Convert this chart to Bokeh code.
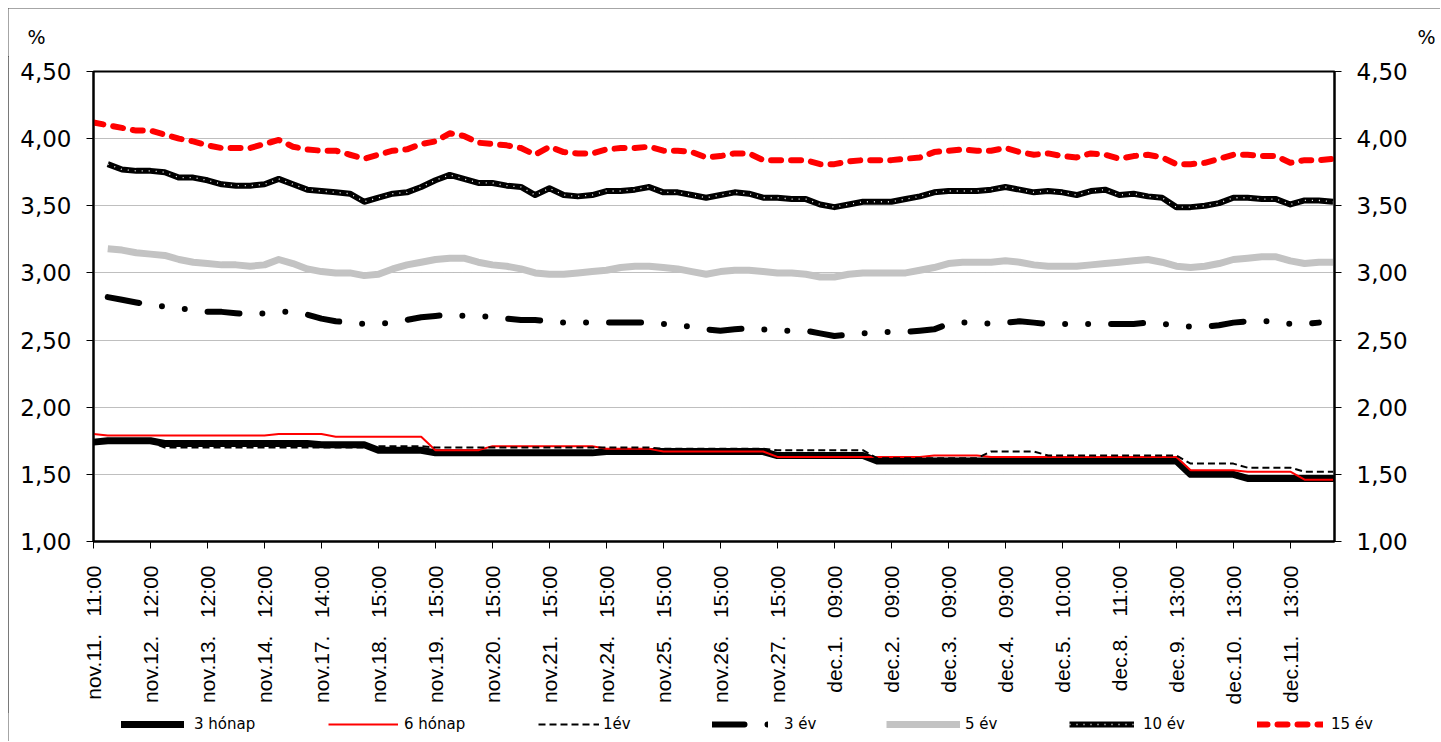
import math
from bokeh.plotting import figure
from bokeh.layouts import column
from bokeh.models import (Range1d, FixedTicker, LinearAxis, Legend, LegendItem, Label)
from bokeh.embed import file_html
from bokeh.resources import INLINE

nan = float("nan")

# ---------------- data ----------------
tick_labels = ["nov.11. 11:00", "nov.12. 12:00", "nov.13. 12:00", "nov.14. 12:00",
               "nov.17. 14:00", "nov.18. 15:00", "nov.19. 15:00", "nov.20. 15:00",
               "nov.21. 15:00", "nov.24. 15:00", "nov.25. 15:00", "nov.26. 15:00",
               "nov.27. 15:00", "dec.1. 09:00", "dec.2. 09:00", "dec.3. 09:00",
               "dec.4. 09:00", "dec.5. 10:00", "dec.8. 11:00", "dec.9. 13:00",
               "dec.10. 13:00", "dec.11. 13:00"]
points_per_label = 4
y_tick_values = [1.0, 1.5, 2.0, 2.5, 3.0, 3.5, 4.0, 4.5]
y_tick_labels = ["1,00", "1,50", "2,00", "2,50", "3,00", "3,50", "4,00", "4,50"]
unit_label = "%"

honap3 = [1.74, 1.75, 1.75, 1.75, 1.75, 1.73, 1.73, 1.73, 1.73, 1.73, 1.73,
          1.73, 1.73, 1.73, 1.73, 1.73, 1.72, 1.72, 1.72, 1.72, 1.68, 1.68,
          1.68, 1.68, 1.66, 1.66, 1.66, 1.66, 1.66, 1.66, 1.66, 1.66, 1.66,
          1.66, 1.66, 1.66, 1.67, 1.67, 1.67, 1.67, 1.67, 1.67, 1.67, 1.67,
          1.67, 1.67, 1.67, 1.67, 1.64, 1.64, 1.64, 1.64, 1.64, 1.64, 1.64,
          1.60, 1.60, 1.60, 1.60, 1.60, 1.60, 1.60, 1.60, 1.60, 1.60, 1.60,
          1.60, 1.60, 1.60, 1.60, 1.60, 1.60, 1.60, 1.60, 1.60, 1.60, 1.60,
          1.50, 1.50, 1.50, 1.50, 1.47, 1.47, 1.47, 1.47, 1.47, 1.47, 1.47]

honap6 = [1.80, 1.79, 1.79, 1.79, 1.79, 1.79, 1.79, 1.79, 1.79, 1.79, 1.79,
          1.79, 1.79, 1.80, 1.80, 1.80, 1.80, 1.78, 1.78, 1.78, 1.78, 1.78,
          1.78, 1.78, 1.68, 1.68, 1.68, 1.68, 1.71, 1.71, 1.71, 1.71, 1.71,
          1.71, 1.71, 1.71, 1.69, 1.69, 1.69, 1.69, 1.67, 1.67, 1.67, 1.67,
          1.67, 1.67, 1.67, 1.67, 1.63, 1.63, 1.63, 1.63, 1.63, 1.63, 1.63,
          1.63, 1.63, 1.63, 1.63, 1.64, 1.64, 1.64, 1.64, 1.63, 1.63, 1.63,
          1.63, 1.63, 1.63, 1.63, 1.63, 1.63, 1.63, 1.63, 1.63, 1.63, 1.63,
          1.53, 1.53, 1.53, 1.53, 1.52, 1.52, 1.52, 1.52, 1.46, 1.46, 1.46]

ev1 = [1.74, 1.74, 1.74, 1.74, 1.74, 1.70, 1.70, 1.70, 1.70, 1.70, 1.70,
       1.70, 1.70, 1.70, 1.70, 1.70, 1.70, 1.70, 1.70, 1.70, 1.71, 1.71,
       1.71, 1.71, 1.70, 1.70, 1.70, 1.70, 1.70, 1.70, 1.70, 1.70, 1.70,
       1.70, 1.70, 1.70, 1.70, 1.70, 1.70, 1.70, 1.69, 1.69, 1.69, 1.69,
       1.69, 1.69, 1.69, 1.69, 1.68, 1.68, 1.68, 1.68, 1.68, 1.68, 1.68,
       1.62, 1.62, 1.62, 1.62, 1.62, 1.62, 1.62, 1.62, 1.67, 1.67, 1.67,
       1.67, 1.64, 1.64, 1.64, 1.64, 1.64, 1.64, 1.64, 1.64, 1.64, 1.64,
       1.58, 1.58, 1.58, 1.58, 1.55, 1.55, 1.55, 1.55, 1.52, 1.52, 1.52]

ev3 = [nan, 2.82, 2.80, 2.78, 2.76, 2.75, 2.74, 2.72, 2.71, 2.71, 2.70,
       2.69, 2.70, 2.71, 2.71, 2.69, 2.66, 2.64, 2.63, 2.62, 2.62, 2.63,
       2.65, 2.67, 2.68, 2.69, 2.68, 2.68, 2.67, 2.66, 2.65, 2.65, 2.64,
       2.63, 2.63, 2.63, 2.63, 2.63, 2.63, 2.63, 2.62, 2.61, 2.60, 2.58,
       2.57, 2.58, 2.59, 2.58, 2.57, 2.57, 2.57, 2.55, 2.53, 2.54, 2.55,
       2.56, 2.56, 2.56, 2.57, 2.58, 2.62, 2.63, 2.63, 2.62, 2.63, 2.64,
       2.63, 2.62, 2.62, 2.62, 2.62, 2.62, 2.62, 2.62, 2.63, 2.62, 2.61,
       2.60, 2.60, 2.61, 2.63, 2.64, 2.64, 2.64, 2.62, 2.62, 2.63, nan]

ev5 = [nan, 3.18, 3.17, 3.15, 3.14, 3.13, 3.10, 3.08, 3.07, 3.06, 3.06,
       3.05, 3.06, 3.10, 3.07, 3.03, 3.01, 3.00, 3.00, 2.98, 2.99, 3.03,
       3.06, 3.08, 3.10, 3.11, 3.11, 3.08, 3.06, 3.05, 3.03, 3.00, 2.99,
       2.99, 3.00, 3.01, 3.02, 3.04, 3.05, 3.05, 3.04, 3.03, 3.01, 2.99,
       3.01, 3.02, 3.02, 3.01, 3.00, 3.00, 2.99, 2.97, 2.97, 2.99, 3.00,
       3.00, 3.00, 3.00, 3.02, 3.04, 3.07, 3.08, 3.08, 3.08, 3.09, 3.08,
       3.06, 3.05, 3.05, 3.05, 3.06, 3.07, 3.08, 3.09, 3.10, 3.08, 3.05,
       3.04, 3.05, 3.07, 3.10, 3.11, 3.12, 3.12, 3.09, 3.07, 3.08, 3.08]

ev10 = [nan, 3.81, 3.77, 3.76, 3.76, 3.75, 3.71, 3.71, 3.69, 3.66, 3.65,
        3.65, 3.66, 3.70, 3.66, 3.62, 3.61, 3.60, 3.59, 3.53, 3.56, 3.59,
        3.60, 3.64, 3.69, 3.73, 3.70, 3.67, 3.67, 3.65, 3.64, 3.58, 3.63,
        3.58, 3.57, 3.58, 3.61, 3.61, 3.62, 3.64, 3.60, 3.60, 3.58, 3.56,
        3.58, 3.60, 3.59, 3.56, 3.56, 3.55, 3.55, 3.51, 3.49, 3.51, 3.53,
        3.53, 3.53, 3.55, 3.57, 3.60, 3.61, 3.61, 3.61, 3.62, 3.64, 3.62,
        3.60, 3.61, 3.60, 3.58, 3.61, 3.62, 3.58, 3.59, 3.57, 3.56, 3.49,
        3.49, 3.50, 3.52, 3.56, 3.56, 3.55, 3.55, 3.51, 3.54, 3.54, 3.53]

ev15 = [4.12, 4.10, 4.08, 4.06, 4.06, 4.03, 4.00, 3.98, 3.95, 3.93, 3.93,
        3.93, 3.96, 3.99, 3.94, 3.92, 3.91, 3.91, 3.88, 3.85, 3.88, 3.91,
        3.92, 3.96, 3.98, 4.04, 4.02, 3.97, 3.96, 3.95, 3.93, 3.88, 3.94,
        3.90, 3.89, 3.89, 3.92, 3.93, 3.93, 3.94, 3.91, 3.91, 3.90, 3.86,
        3.87, 3.89, 3.89, 3.84, 3.84, 3.84, 3.84, 3.81, 3.81, 3.83, 3.84,
        3.84, 3.84, 3.85, 3.86, 3.90, 3.91, 3.92, 3.91, 3.91, 3.93, 3.90,
        3.88, 3.89, 3.87, 3.86, 3.89, 3.88, 3.85, 3.87, 3.88, 3.86, 3.81,
        3.81, 3.82, 3.85, 3.88, 3.88, 3.87, 3.87, 3.82, 3.84, 3.84, 3.85]

x = list(range(len(ev15)))

# ---------------- sizes ----------------
W = 1432
PAGE_L = 8                            # page x of the layout's left edge
H_TOP, H_MAIN, H_LEG = 48, 656, 29
ML, MR, MT, MB = 85, 106, 15, 171
tick_font = "DejaVu Sans"

# series styles (shared by the chart and the legend strip)
styles = {
    "3 hónap": [dict(line_color="black", line_width=7, line_cap="round", line_join="round")],
    "6 hónap": [dict(line_color="#ff0000", line_width=2)],
    "1év": [dict(line_color="black", line_width=2, line_dash="7 4")],
    "3 év": [dict(line_color="black", line_width=6, line_cap="round", line_join="round",
                  line_dash="32 23 0 23 0 23")],
    "5 év": [dict(line_color="#c3c3c3", line_width=7, line_join="round")],
    "10 év": [dict(line_color="black", line_width=6, line_join="round"),
              dict(line_color="white", line_width=1.3, line_dash="1 6", line_join="round")],
    "15 év": [dict(line_color="#ff0000", line_width=6, line_cap="round", line_join="round",
                   line_dash="10 10")],
}
series = [("3 hónap", honap3), ("6 hónap", honap6), ("1év", ev1), ("3 év", ev3),
          ("5 év", ev5), ("10 év", ev10), ("15 év", ev15)]


def strip(height):
    f = figure(width=W, height=height, output_backend="svg", toolbar_location=None,
               x_range=Range1d(PAGE_L, PAGE_L + W), y_range=Range1d(0, height),
               x_axis_type=None, y_axis_type=None, min_border=0,
               outline_line_color=None, background_fill_color="white",
               border_fill_color="white", frame_align=False)
    f.grid.visible = False
    return f


# ---------------- top strip with the % signs ----------------
top = strip(H_TOP)
for px in (27, 1417):
    top.add_layout(Label(x=px, y=20, text=unit_label, text_font=tick_font,
                         text_font_size="19px", text_color="black",
                         text_baseline="middle"))

# ---------------- main chart ----------------
p = figure(width=W, height=H_MAIN, output_backend="svg", toolbar_location=None,
           x_range=Range1d(0, 87.1), y_range=Range1d(1.0, 4.5),
           min_border_left=ML, min_border_right=MR, min_border_top=MT,
           min_border_bottom=MB, background_fill_color="white",
           border_fill_color="white", frame_align=False)
p.outline_line_color = "black"
p.outline_line_width = 2

p.xgrid.visible = False
p.ygrid.ticker = FixedTicker(ticks=y_tick_values)
p.ygrid.grid_line_color = "#7f7f7f"
p.ygrid.grid_line_dash = "1 1"
p.ygrid.grid_line_width = 1

overrides_y = {v: s for v, s in zip(y_tick_values, y_tick_labels)}


def style_y(ax):
    ax.ticker = FixedTicker(ticks=y_tick_values)
    ax.major_label_overrides = overrides_y
    ax.major_label_text_font = tick_font
    ax.major_label_text_font_size = "23px"
    ax.major_label_text_color = "black"
    ax.major_label_standoff = 15
    ax.axis_line_color = "black"
    ax.axis_line_width = 2
    ax.major_tick_line_color = "black"
    ax.major_tick_line_width = 1
    ax.major_tick_out = 7
    ax.major_tick_in = 0
    ax.minor_tick_line_color = None


style_y(p.yaxis[0])
right_axis = LinearAxis()
style_y(right_axis)
p.add_layout(right_axis, "right")

xt = [i * points_per_label for i in range(len(tick_labels))]
xa = p.xaxis[0]
xa.ticker = FixedTicker(ticks=xt)
xa.major_label_overrides = {t: s.replace(" ", "\u00a0\u00a0\u00a0")
                            for t, s in zip(xt, tick_labels)}
xa.major_label_orientation = math.pi / 2
xa.major_label_text_font = "Liberation Sans"
xa.major_label_text_font_size = "21px"
xa.major_label_text_color = "black"
xa.major_label_standoff = 17
xa.axis_line_color = "black"
xa.axis_line_width = 2
xa.major_tick_line_color = "black"
xa.major_tick_out = 7
xa.major_tick_in = 0
xa.minor_tick_line_color = None

for name, vals in series:
    for st in styles[name]:
        p.line(x, vals, **st)

# ---------------- legend strip ----------------
leg = strip(H_LEG)

# (name, glyph start on the page, glyph width, label standoff)
legend_pos = [("3 hónap", 121, 63, 10), ("6 hónap", 328, 70, 6), ("1év", 538, 61, 4),
              ("3 év", 712, 56, 16), ("5 év", 886, 74, 5), ("10 év", 1069, 65, 9),
              ("15 év", 1257, 66, 8)]
for name, gx, gw, sto in legend_pos:
    rends = [leg.line([nan], [nan], **st) for st in styles[name]]
    lg = Legend(items=[LegendItem(label=name, renderers=rends)],
                location=(gx - PAGE_L, 7), orientation="horizontal",
                glyph_width=gw, glyph_height=20, label_height=20,
                label_standoff=sto, padding=0, margin=0, spacing=0,
                border_line_color=None, background_fill_alpha=0,
                label_text_font=tick_font, label_text_font_size="15px",
                label_text_color="black")
    leg.add_layout(lg)

layout = column(top, p, leg, spacing=0)
layout.styles = {"margin-left": "8px", "margin-top": "8px",
                 "box-shadow": "inset 1px 1px 0 0 #4d4d4d"}

open("out.html", "w").write(file_html(layout, INLINE))
